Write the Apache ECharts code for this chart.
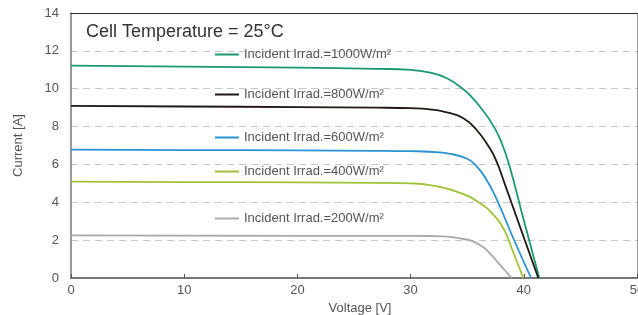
<!DOCTYPE html>
<html>
<head>
<meta charset="utf-8">
<script src="https://cdn.jsdelivr.net/npm/echarts@6/dist/echarts.min.js"></script>
<style>
  html, body { margin: 0; padding: 0; background: #fff; }
  #chart { width: 638px; height: 315px; }
</style>
</head>
<body>
<div id="chart"></div>
<script>
// I-V curves: voltage [V] / current [A]
const volt1000 = [0, 10, 20, 27, 30, 31.7, 33.2, 34.66, 35.4, 36.13, 37.3, 38.0, 38.7, 40, 41.37];
const curr1000 = [11.22, 11.17, 11.11, 11.05, 11.0, 10.85, 10.55, 9.97, 9.55, 9.05, 8.05, 7.2, 6.0, 3.05, 0];

const volt800 = [0, 10, 20, 27, 30, 31.7, 33.2, 34.66, 35.84, 37.0, 37.6, 38.3, 41.28];
const curr800 = [9.09, 9.06, 9.03, 9.0, 8.97, 8.91, 8.75, 8.44, 7.82, 6.85, 6.15, 5.0, 0];

const volt600 = [0, 10, 20, 27, 30, 31.7, 33.5, 35.0, 35.8, 36.6, 37.5, 39.07, 40.64];
const curr600 = [6.78, 6.76, 6.74, 6.72, 6.70, 6.67, 6.56, 6.3, 5.92, 5.3, 4.3, 2.1, 0];

const volt400 = [0, 10, 20, 27, 30, 31.7, 34.07, 36.13, 37.6, 38.34, 38.93, 39.96];
const curr400 = [5.09, 5.07, 5.05, 5.03, 5.0, 4.91, 4.56, 3.95, 3.15, 2.45, 1.57, 0];

const volt200 = [0, 10, 20, 27, 30, 31.7, 34.66, 36.13, 37.0, 37.9, 38.93];
const curr200 = [2.25, 2.24, 2.23, 2.23, 2.23, 2.22, 2.06, 1.74, 1.3, 0.69, 0];

const seriesNames = [
  'Incident Irrad.=1000W/m²',
  'Incident Irrad.=800W/m²',
  'Incident Irrad.=600W/m²',
  'Incident Irrad.=400W/m²',
  'Incident Irrad.=200W/m²'
];
const seriesColors = ['#1a9b6c', '#231815', '#2a93d5', '#a0c437', '#aaaaaa'];
const legendTops = [48, 88, 131, 165, 212];

const curves = [
  [volt1000, curr1000],
  [volt800, curr800],
  [volt600, curr600],
  [volt400, curr400],
  [volt200, curr200]
];

const font = '"Liberation Sans", Arial, sans-serif';

const chart = echarts.init(document.getElementById('chart'));

const series = curves.map(function (c, i) {
  return {
    name: seriesNames[i],
    type: 'line',
    data: c[0].map(function (v, k) { return [v, c[1][k]]; }),
    showSymbol: false,
    symbol: 'none',
    smooth: 0.5,
    lineStyle: { color: seriesColors[i], width: 1.8 },
    itemStyle: { color: seriesColors[i] },
    animation: false
  };
});

const legends = seriesNames.map(function (n, i) {
  return {
    data: [{ name: n, icon: 'rect' }],
    left: 215,
    top: legendTops[i],
    padding: 0,
    itemWidth: 24,
    itemHeight: 2,
    selectedMode: false,
    textStyle: { color: '#555', fontSize: 13, fontFamily: font }
  };
});

chart.setOption({
  animation: false,
  textStyle: { fontFamily: font },
  title: {
    text: 'Cell Temperature = 25°C',
    left: 81,
    top: 18,
    textStyle: { color: '#333', fontSize: 18, fontWeight: 'normal', fontFamily: font }
  },
  legend: legends,
  grid: { left: 71, right: 1, top: 13, bottom: 37, outerBoundsMode: 'none', containLabel: false },
  xAxis: [
    {
      type: 'value',
      min: 0,
      max: 50,
      interval: 10,
      position: 'bottom',
      name: 'Voltage [V]',
      nameLocation: 'middle',
      nameGap: 22,
      nameTextStyle: { color: '#555', fontSize: 13, fontFamily: font, padding: [0, 0, 0, 12] },
      axisLine: { show: true, lineStyle: { color: '#777', width: 2 } },
      axisTick: { show: true, inside: true, length: 4, lineStyle: { color: '#555' } },
      axisLabel: { margin: 6, color: '#555', fontSize: 13, fontFamily: font },
      splitLine: { show: false }
    },
    {
      type: 'value',
      min: 0,
      max: 50,
      interval: 10,
      position: 'top',
      axisLine: { show: true, onZero: false, lineStyle: { color: '#333', width: 1 } },
      axisTick: { show: false },
      axisLabel: { show: false },
      splitLine: { show: false }
    }
  ],
  yAxis: [
    {
      type: 'value',
      min: 0,
      max: 14,
      interval: 2,
      position: 'left',
      name: 'Current [A]',
      nameLocation: 'middle',
      nameGap: 46,
      nameTextStyle: { color: '#555', fontSize: 13, fontFamily: font },
      axisLine: { show: true, lineStyle: { color: '#777', width: 1.5 } },
      axisTick: { show: false },
      axisLabel: { margin: 12, color: '#555', fontSize: 13, fontFamily: font },
      splitLine: { show: true, lineStyle: { color: '#c8c8c8', type: [7, 5], width: 1 } }
    },
    {
      type: 'value',
      min: 0,
      max: 14,
      interval: 2,
      position: 'right',
      axisLine: { show: true, onZero: false, lineStyle: { color: '#999', width: 1 } },
      axisTick: { show: false },
      axisLabel: { show: false },
      splitLine: { show: false }
    }
  ],
  series: series
});
</script>
</body>
</html>
